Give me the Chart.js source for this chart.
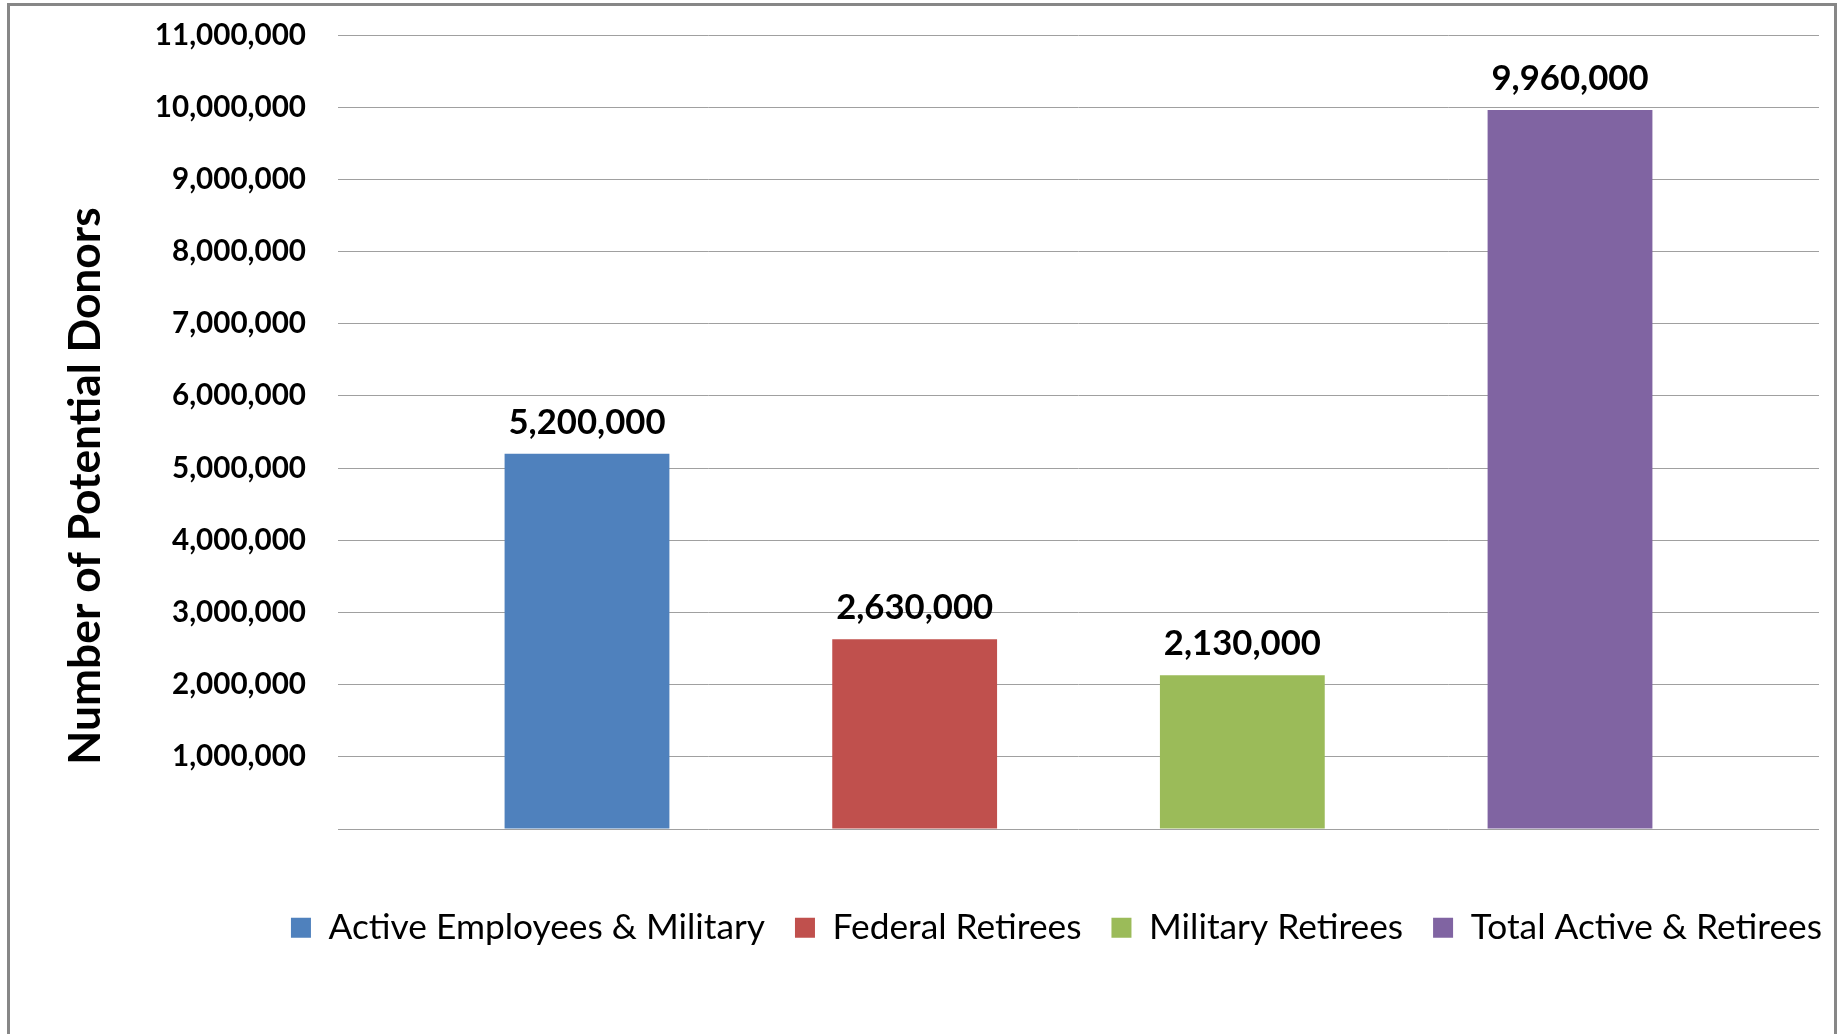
<!DOCTYPE html>
<html>
<head>
<meta charset="utf-8">
<script src="https://cdn.jsdelivr.net/npm/chart.js@4.4.1/dist/chart.umd.min.js"></script>
<style>
  body { margin: 0; background: #fff; }
  #frame { position: absolute; left: 7px; top: 3px; width: 1824px; height: 1100px; border: 3px solid #878787; border-bottom: none; }
  #chart { position: absolute; left: 0; top: 0; }
</style>
</head>
<body>
<div id="frame"></div>
<canvas id="chart" width="1837" height="1034"></canvas>
<script>
// data
const seriesNames = ['Active Employees & Military', 'Federal Retirees', 'Military Retirees', 'Total Active & Retirees'];
const seriesValues = [5200000, 2630000, 2130000, 9960000];
const seriesColors = ['#4F81BD', '#C0504D', '#9BBB59', '#8064A2'];
const yMax = 11000000;
const yStep = 1000000;
const yTitle = 'Number of Potential Donors';

const FAMILY = 'Lato, "Open Sans", sans-serif';

// pick a font size so a sample string comes out at the width seen in the picture
function fitFont(text, weight, targetWidth) {
    const c = document.createElement('canvas').getContext('2d');
    c.font = weight + ' 100px ' + FAMILY;
    return Math.round(1000 * targetWidth / c.measureText(text).width) / 10;
}

const tickSize = fitFont('11,000,000', 'bold', 151);
const valueSize = fitFont('5,200,000', 'bold', 157);
const legendSize = fitFont('Active Employees & Military', 'normal', 437);
const titleSize = fitFont(yTitle, 'bold', 557);

function fmt(v) {
    return v.toLocaleString('en-US');
}

// value labels above each bar
const valueLabels = {
    id: 'valueLabels',
    afterDatasetsDraw(chart) {
        const ctx = chart.ctx;
        ctx.save();
        ctx.font = 'bold ' + valueSize + 'px ' + FAMILY;
        ctx.fillStyle = '#000';
        ctx.textAlign = 'center';
        ctx.textBaseline = 'alphabetic';
        chart.data.datasets.forEach((ds, i) => {
            chart.getDatasetMeta(i).data.forEach((bar, j) => {
                ctx.fillText(fmt(ds.data[j]), bar.x, bar.y - 20);
            });
        });
        ctx.restore();
    }
};

// rotated y axis title, placed like the original (centred lower than the plot)
const axisTitle = {
    id: 'axisTitle',
    afterDraw(chart) {
        const ctx = chart.ctx;
        ctx.save();
        ctx.translate(86, 486);
        ctx.rotate(-Math.PI / 2);
        ctx.font = 'bold ' + titleSize + 'px ' + FAMILY;
        ctx.fillStyle = '#000';
        ctx.textAlign = 'center';
        ctx.textBaseline = 'middle';
        ctx.fillText(yTitle, 0, 0);
        ctx.restore();
    }
};

// the original legend sits a little further right than the plot edge
const legendShift = {
    id: 'legendShift',
    afterLayout(chart) {
        chart.legend.left += 33;
        chart.legend.right += 33;
    }
};

const xAxisHeight = 51;
const legendHeight = Math.max(legendSize, 20) + 30 + 10;

new Chart(document.getElementById('chart'), {
    type: 'bar',
    data: {
        labels: [''],
        datasets: seriesNames.map((name, i) => ({
            label: name,
            data: [seriesValues[i]],
            backgroundColor: seriesColors[i],
            categoryPercentage: 0.885,
            barPercentage: 0.503
        }))
    },
    options: {
        responsive: false,
        animation: false,
        layout: { padding: { left: 0, right: 18, top: 35, bottom: 1034 - 829 - xAxisHeight - legendHeight } },
        plugins: {
            tooltip: { enabled: false },
            legend: {
                position: 'bottom',
                align: 'end',
                labels: {
                    boxWidth: 20,
                    boxHeight: 20,
                    padding: 30,
                    color: '#000',
                    font: { family: FAMILY, size: legendSize }
                }
            }
        },
        scales: {
            x: {
                ticks: { display: false },
                grid: { display: false },
                border: { display: false },
                afterFit(scale) { scale.height = xAxisHeight; }
            },
            y: {
                min: 0,
                max: yMax,
                border: { display: false },
                grid: { color: '#a0a0a0', lineWidth: 1, drawTicks: false },
                ticks: {
                    stepSize: yStep,
                    padding: 32,
                    color: '#000',
                    font: { family: FAMILY, size: tickSize, weight: 'bold' },
                    callback: v => v === 0 ? '' : fmt(v)
                },
                afterFit(scale) {
                    scale.width = 338;
                    // tick padding would otherwise push the top gridline down
                    scale.paddingTop = 0;
                    scale.paddingBottom = 0;
                }
            }
        }
    },
    plugins: [valueLabels, axisTitle, legendShift]
});
</script>
</body>
</html>
